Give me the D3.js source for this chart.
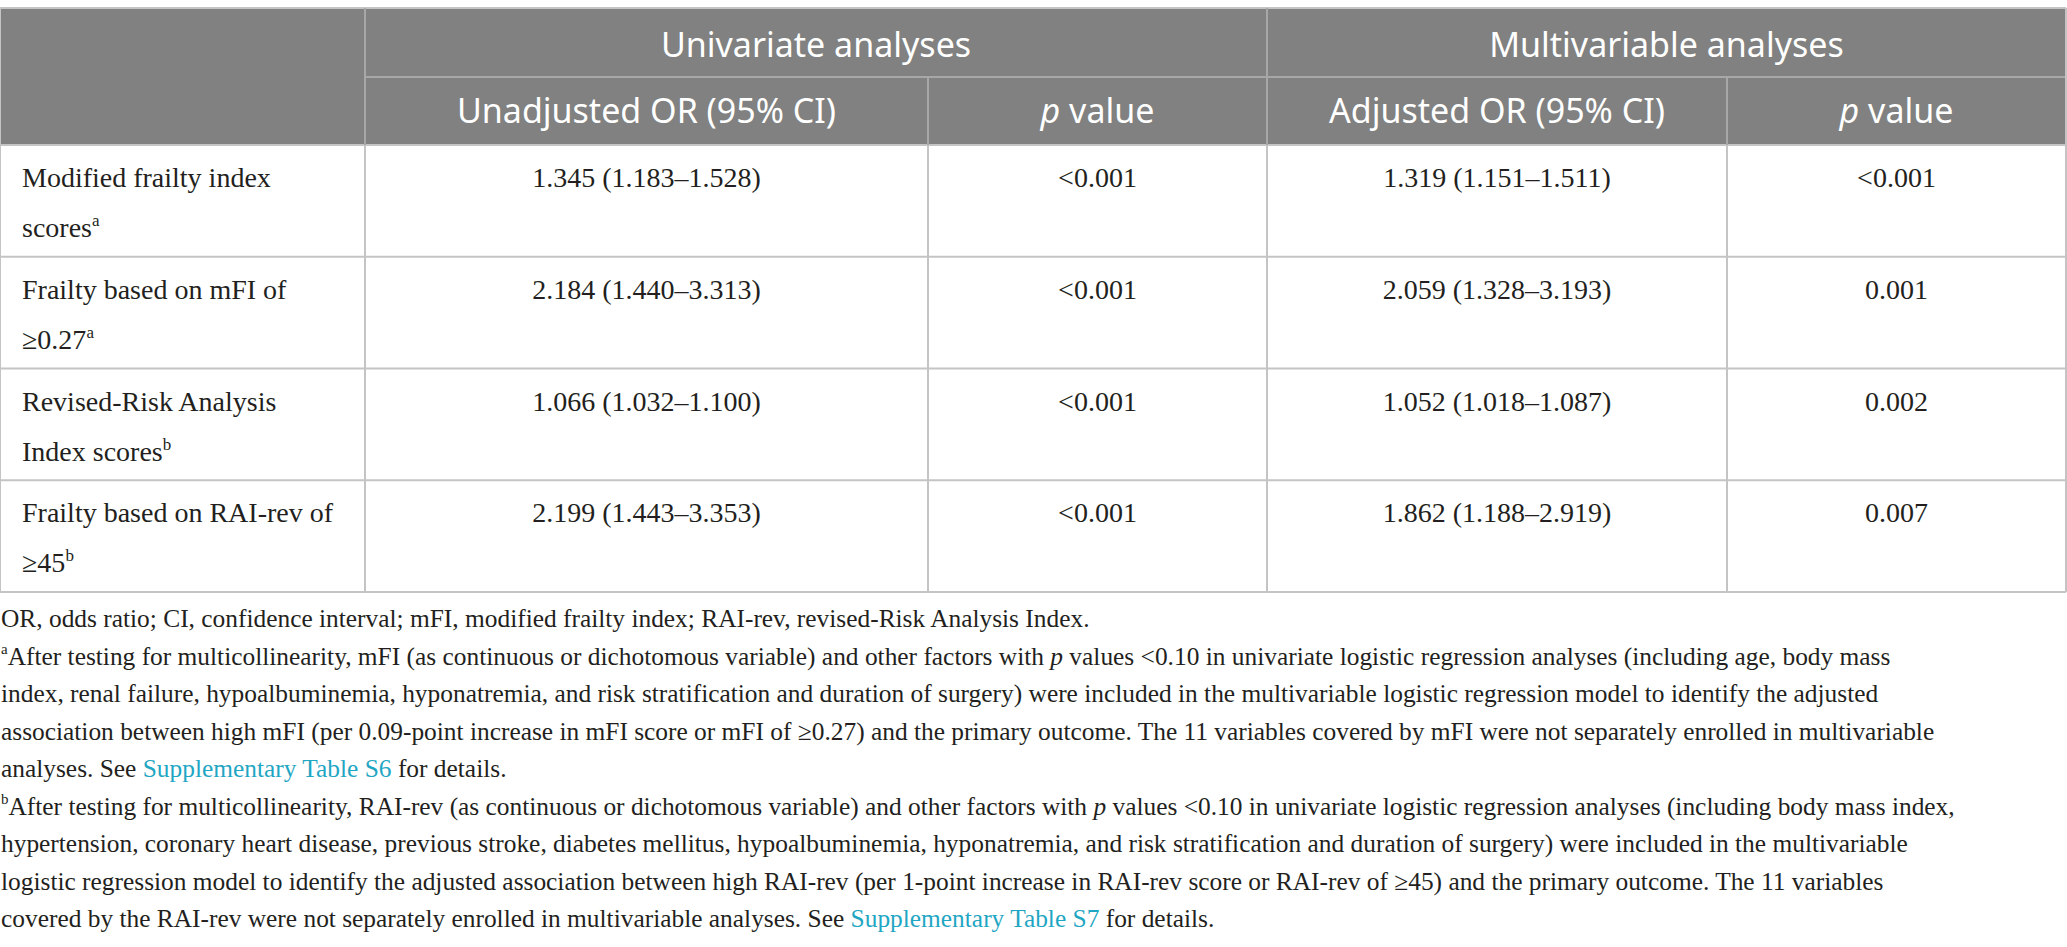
<!DOCTYPE html>
<html>
<head>
<meta charset="utf-8">
<script src="https://cdn.jsdelivr.net/npm/d3@7"></script>
<style>
  body { margin: 0; background: #fff; }
</style>
</head>
<body>
<div id="chart"></div>
<script>
// table content (^x = superscript, *x* = italic, [x] = link)
var groupHeaders = ['Univariate analyses', 'Multivariable analyses'];
var subHeaders = ['Unadjusted OR (95% CI)', '*p* value', 'Adjusted OR (95% CI)', '*p* value'];
var rowLabels = [
    ['Modified frailty index', 'scores^a'],
    ['Frailty based on mFI of', '≥0.27^a'],
    ['Revised-Risk Analysis', 'Index scores^b'],
    ['Frailty based on RAI-rev of', '≥45^b']
];
var unadjustedOR = ['1.345 (1.183–1.528)', '2.184 (1.440–3.313)', '1.066 (1.032–1.100)', '2.199 (1.443–3.353)'];
var unadjustedP = ['<0.001', '<0.001', '<0.001', '<0.001'];
var adjustedOR = ['1.319 (1.151–1.511)', '2.059 (1.328–3.193)', '1.052 (1.018–1.087)', '1.862 (1.188–2.919)'];
var adjustedP = ['<0.001', '0.001', '0.002', '0.007'];
var footnotes = [
    'OR, odds ratio; CI, confidence interval; mFI, modified frailty index; RAI-rev, revised-Risk Analysis Index.',
    '^aAfter testing for multicollinearity, mFI (as continuous or dichotomous variable) and other factors with *p* values <0.10 in univariate logistic regression analyses (including age, body mass',
    'index, renal failure, hypoalbuminemia, hyponatremia, and risk stratification and duration of surgery) were included in the multivariable logistic regression model to identify the adjusted',
    'association between high mFI (per 0.09-point increase in mFI score or mFI of ≥0.27) and the primary outcome. The 11 variables covered by mFI were not separately enrolled in multivariable',
    'analyses. See [Supplementary Table S6] for details.',
    '^bAfter testing for multicollinearity, RAI-rev (as continuous or dichotomous variable) and other factors with *p* values <0.10 in univariate logistic regression analyses (including body mass index,',
    'hypertension, coronary heart disease, previous stroke, diabetes mellitus, hypoalbuminemia, hyponatremia, and risk stratification and duration of surgery) were included in the multivariable',
    'logistic regression model to identify the adjusted association between high RAI-rev (per 1-point increase in RAI-rev score or RAI-rev of ≥45) and the primary outcome. The 11 variables',
    'covered by the RAI-rev were not separately enrolled in multivariable analyses. See [Supplementary Table S7] for details.'
];

var width = 2067;
var height = 947;
var serif = '"Liberation Serif", "Times New Roman", serif';
var sans = '"Noto Sans", "Open Sans", sans-serif';
var headFill = '#808180';
var headLine = '#a6a7a6';
var gridColor = '#c4c4c4';
var textColor = '#231f20';
var linkColor = '#1fa6c3';

var svg = d3.select('#chart')
    .append('svg')
    .attr('width', width)
    .attr('height', height);

// columns: label | unadjusted OR | p | adjusted OR | p
var columns = ['label', 'uOR', 'uP', 'aOR', 'aP'];
var colEdges = [0, 365, 928, 1267, 1727, 2066];
var colX = d3.scaleOrdinal().domain(columns).range(colEdges.slice(0, 5));
var colW = d3.scaleOrdinal().domain(columns).range(d3.range(5).map(i => colEdges[i + 1] - colEdges[i]));
var colMid = c => colX(c) + colW(c) / 2;

var tableTop = 8, headMid = 77, headBottom = 145, tableBottom = 592;
var y = d3.scaleBand()
    .domain(d3.range(rowLabels.length))
    .range([headBottom, tableBottom]);

// writes a marked-up string into a text element as tspans
function richText(sel, str, supSize) {
    var parts = str.split(/(\^[ab]|\*[^*]+\*|\[[^\]]+\])/).filter(s => s.length);
    var raised = false;
    parts.forEach(function(p) {
        var t = sel.append('tspan');
        if (p[0] === '^') {
            t.text(p.slice(1)).attr('font-size', supSize).attr('dy', -11);
            raised = true;
            return;
        }
        if (raised) { t.attr('dy', 11); raised = false; }
        if (p[0] === '*') t.text(p.slice(1, -1)).attr('font-style', 'italic');
        else if (p[0] === '[') t.text(p.slice(1, -1)).attr('fill', linkColor);
        else t.text(p);
    });
}

// header background
svg.append('rect')
    .attr('x', colEdges[0]).attr('y', tableTop)
    .attr('width', colEdges[5] - colEdges[0]).attr('height', headBottom - tableTop)
    .attr('fill', headFill);

var lines = svg.append('g').attr('stroke', gridColor).attr('stroke-width', 2);

// horizontal rules
lines.append('line').attr('x1', 0).attr('x2', colEdges[5]).attr('y1', tableTop).attr('y2', tableTop);
lines.append('line').attr('x1', colEdges[1]).attr('x2', colEdges[5]).attr('y1', headMid).attr('y2', headMid)
    .attr('stroke', headLine);
lines.selectAll('line.row')
    .data(d3.range(rowLabels.length + 1))
    .enter()
    .append('line')
    .attr('class', 'row')
    .attr('x1', 0).attr('x2', colEdges[5])
    .attr('y1', d => d < rowLabels.length ? y(d) : tableBottom)
    .attr('y2', d => d < rowLabels.length ? y(d) : tableBottom);

// vertical rules: header part and body part
var vLines = [
    { x: colEdges[0], top: tableTop },
    { x: colEdges[1], top: tableTop },
    { x: colEdges[2], top: headMid },
    { x: colEdges[3], top: tableTop },
    { x: colEdges[4], top: headMid },
    { x: colEdges[5], top: tableTop }
];
lines.selectAll('line.colhead')
    .data(vLines.slice(1, 5))
    .enter()
    .append('line')
    .attr('class', 'colhead')
    .attr('x1', d => d.x).attr('x2', d => d.x)
    .attr('y1', d => d.top).attr('y2', headBottom)
    .attr('stroke', headLine);
lines.selectAll('line.col')
    .data(vLines)
    .enter()
    .append('line')
    .attr('class', 'col')
    .attr('x1', d => d.x).attr('x2', d => d.x)
    .attr('y1', (d, i) => (i === 0 || i === 5) ? d.top : headBottom)
    .attr('y2', tableBottom);

// header text
var groupMid = [(colX('uOR') + colX('aOR')) / 2, (colX('aOR') + colEdges[5]) / 2];
svg.append('g').selectAll('text')
    .data(groupHeaders)
    .enter()
    .append('text')
    .attr('x', (d, i) => groupMid[i])
    .attr('y', 57)
    .attr('text-anchor', 'middle')
    .attr('font-family', sans)
    .attr('font-size', 34)
    .attr('fill', '#fff')
    .text(d => d);

svg.append('g').selectAll('text')
    .data(subHeaders)
    .enter()
    .append('text')
    .attr('x', (d, i) => colMid(columns[i + 1]))
    .attr('y', 123)
    .attr('text-anchor', 'middle')
    .attr('font-family', sans)
    .attr('font-size', 34)
    .attr('fill', '#fff')
    .each(function(d) { richText(d3.select(this), d, 20); });

// body: row labels
var labelG = svg.append('g')
    .attr('font-family', serif)
    .attr('font-size', 28)
    .attr('fill', textColor);

rowLabels.forEach(function(lab, r) {
    lab.forEach(function(line, k) {
        labelG.append('text')
            .attr('x', colX('label') + 22)
            .attr('y', y(r) + 42 + k * 50)
            .each(function() { richText(d3.select(this), line, 17); });
    });
});

// body: values
var valueCols = [
    { col: 'uOR', values: unadjustedOR },
    { col: 'uP', values: unadjustedP },
    { col: 'aOR', values: adjustedOR },
    { col: 'aP', values: adjustedP }
];
valueCols.forEach(function(vc) {
    labelG.append('g').selectAll('text')
        .data(vc.values)
        .enter()
        .append('text')
        .attr('x', colMid(vc.col))
        .attr('y', (d, i) => y(i) + 42)
        .attr('text-anchor', 'middle')
        .text(d => d);
});

// footnotes
var noteG = svg.append('g')
    .attr('font-family', serif)
    .attr('font-size', 25.4)
    .attr('fill', textColor);

noteG.selectAll('text')
    .data(footnotes)
    .enter()
    .append('text')
    .attr('x', 1)
    .attr('y', (d, i) => 627 + i * 37.5)
    .each(function(d) { richText(d3.select(this), d, 15); });
</script>
</body>
</html>
